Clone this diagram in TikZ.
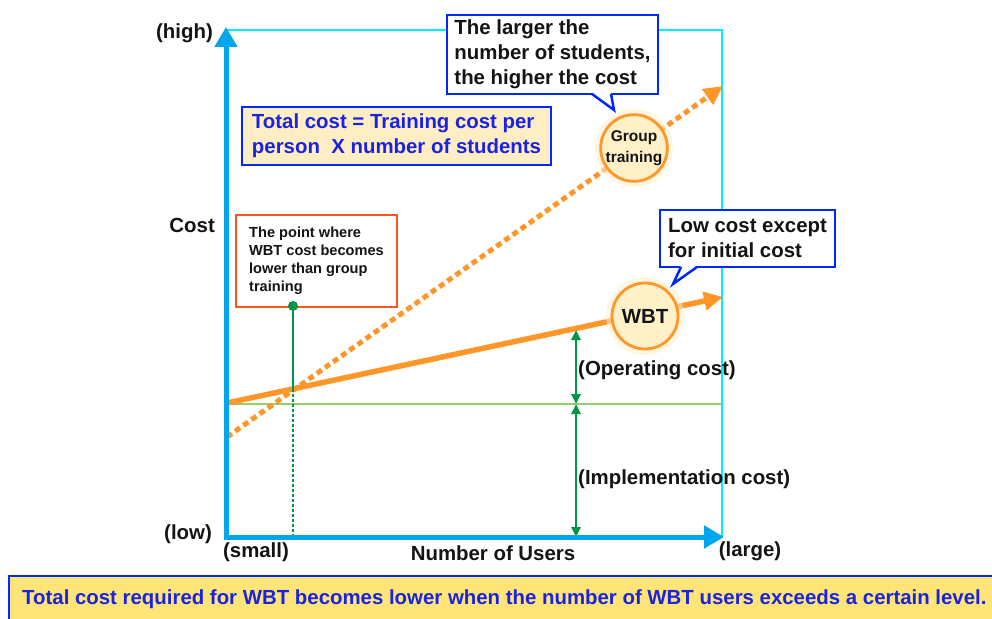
\documentclass[tikz,border=0pt]{standalone}
\usepackage{fontspec}
\setmainfont{Liberation Sans}
\usetikzlibrary{arrows.meta}
\definecolor{axisblue}{RGB}{0,166,235}
\definecolor{boxcyan}{RGB}{0,240,250}
\definecolor{wbtorange}{RGB}{255,150,40}
\definecolor{lightgreen}{RGB}{150,205,110}
\definecolor{darkgreen}{RGB}{0,150,70}
\definecolor{callblue}{RGB}{0,40,250}
\definecolor{textblue}{RGB}{25,35,225}
\definecolor{beige}{RGB}{255,238,195}
\definecolor{circfill}{RGB}{255,240,200}
\definecolor{glowcol}{RGB}{255,238,205}
\definecolor{banneryellow}{RGB}{255,228,120}
\definecolor{pointred}{RGB}{255,85,25}
\definecolor{ink}{RGB}{20,20,20}
\begin{document}
\begin{tikzpicture}[x=1pt,y=-1pt,
  bigfont/.style={font=\fontsize{20.4}{25}\selectfont\bfseries},
  lbl/.style={bigfont, text=ink, inner sep=0pt},
  axisline/.style={draw=axisblue, line width=5pt, line join=miter,
    {Triangle[length=20pt,width=22pt]}-{Triangle[length=20pt,width=22pt]}},
  cyanline/.style={draw=boxcyan, line width=2pt},
  baseline/.style={draw=lightgreen, line width=2.5pt},
  wbtline/.style={draw=wbtorange, line width=5.5pt, -{Triangle[length=19pt,width=18pt]}},
  grpline/.style={draw=wbtorange, line width=5pt, dash pattern=on 6pt off 4pt, -{Triangle[length=19pt,width=18pt]}},
  dimline/.style={draw=darkgreen, line width=2.5pt},
  dimarrow/.style={dimline, {Triangle[length=10pt,width=9pt]}-{Triangle[length=10pt,width=9pt]}},
  glowc/.style={circle, fill=glowcol, opacity=0.55, minimum size=78pt, inner sep=0pt},
  circ/.style={circle, fill=circfill, draw=wbtorange, line width=2.8pt, minimum size=66pt, inner sep=0pt, align=center, text=ink},
  callout/.style={bigfont, draw=callblue, fill=white, line width=2.5pt, align=left, text=ink, inner sep=0pt},
  calltail/.style={draw=callblue, line width=2.5pt, line join=miter},
  infobox/.style={bigfont, draw=callblue, fill=beige, line width=2.5pt, align=left, text=textblue, inner sep=0pt},
  pointbox/.style={font=\fontsize{14.6}{18}\selectfont\bfseries, draw=pointred, fill=white, line width=2.5pt, align=left, text=ink, inner sep=0pt},
  dot/.style={circle, fill=darkgreen, minimum size=10pt, inner sep=0pt},
  banner/.style={fill=banneryellow, draw=callblue, line width=2.5pt}
]
\useasboundingbox (0,0) rectangle (992,618);
\fill[white] (0,0) rectangle (992,618);

% frame
\draw[cyanline] (226,30) -- (722,30) -- (722,537);
\coordinate (gl0) at (226,404);
\coordinate (gl1) at (722,404);
\draw[baseline] (gl0) -- (gl1);

% cost lines
\coordinate (grpstart) at (227,437);
\coordinate (grpend) at (723,86);
\draw[grpline] (grpstart) -- (grpend);
\coordinate (wbtstart) at (227,403);
\coordinate (wbtend) at (723,297);
\draw[wbtline] (wbtstart) -- (wbtend);

% green marks
\coordinate (cross) at (293,389);
\coordinate (xbase) at (293,537);
\draw[dimline, dash pattern=on 3pt off 2pt, line width=2pt] (cross) -- (xbase);
\coordinate (opTop) at (576,330);
\coordinate (opBot) at (576,404);
\coordinate (imBot) at (576,537);
\draw[dimarrow] (opTop) -- (opBot);
\draw[dimarrow] (opBot) -- (imBot);

% axes
\coordinate (ytop) at (226,27);
\coordinate (O) at (226,537);
\coordinate (xend) at (724,537);
\draw[axisline] (ytop) -- (O) -- (xend);

% circles
\node[glowc] (grpglow) at (634,148) {};
\node[circ, font=\fontsize{15.5}{21}\selectfont\bfseries] (grp) at (634,148) {Group\\training};
\node[glowc] (wbtglow) at (645,316) {};
\node[circ, bigfont] (wbt) at (645,316) {WBT};

% callout 1
\node[callout, minimum width=211pt, minimum height=79pt] (c1) at (552.5,54.5)
  {The larger the\\number of students,\\the higher the cost};
\coordinate (t1a) at (592,94);
\coordinate (t1tip) at (614,110);
\coordinate (t1b) at (611,94);
\fill[white] ([yshift=1.5pt]t1a) -- (t1tip) -- ([yshift=1.5pt]t1b) -- cycle;
\draw[calltail] (t1a) -- (t1tip) -- (t1b);

% callout 2
\node[callout, minimum width=175pt, minimum height=57pt] (c2) at (747.5,238.5)
  {Low cost except\\for initial cost};
\coordinate (t2a) at (681,267);
\coordinate (t2tip) at (673,284);
\coordinate (t2b) at (697,267);
\fill[white] ([yshift=1.5pt]t2a) -- (t2tip) -- ([yshift=1.5pt]t2b) -- cycle;
\draw[calltail] (t2a) -- (t2tip) -- (t2b);

% info box
\node[infobox, minimum width=309pt, minimum height=58pt] (total) at (396.5,136)
  {Total cost = Training cost per\\person\ \ X number of students};

% point box
\node[pointbox, minimum width=161pt, minimum height=92pt] (pbox) at (316.5,261)
  {The point where\\WBT cost becomes\\lower than group\\training};
\node[dot] (pt) at (293,306) {};
\draw[dimline] (pt) -- (cross);

% labels
\node[lbl, anchor=east] (high) at (213,33) {(high)};
\node[lbl, anchor=east] (cost) at (215,225) {Cost};
\node[lbl, anchor=east] (low) at (212,534) {(low)};
\node[lbl] (small) at (256,552) {(small)};
\node[lbl] (users) at (493,553) {Number of Users};
\node[lbl] (large) at (750,551) {(large)};
\node[lbl, anchor=west] (opcost) at (578,370) {(Operating cost)};
\node[lbl, anchor=west] (imcost) at (578,479) {(Implementation cost)};

% banner
\draw[banner] (9,576) rectangle (1005,630);
\node[lbl, anchor=west, text=textblue] (msg) at (22,599)
  {Total cost required for WBT becomes lower when the number of WBT users exceeds a certain level.};
\end{tikzpicture}
\end{document}
